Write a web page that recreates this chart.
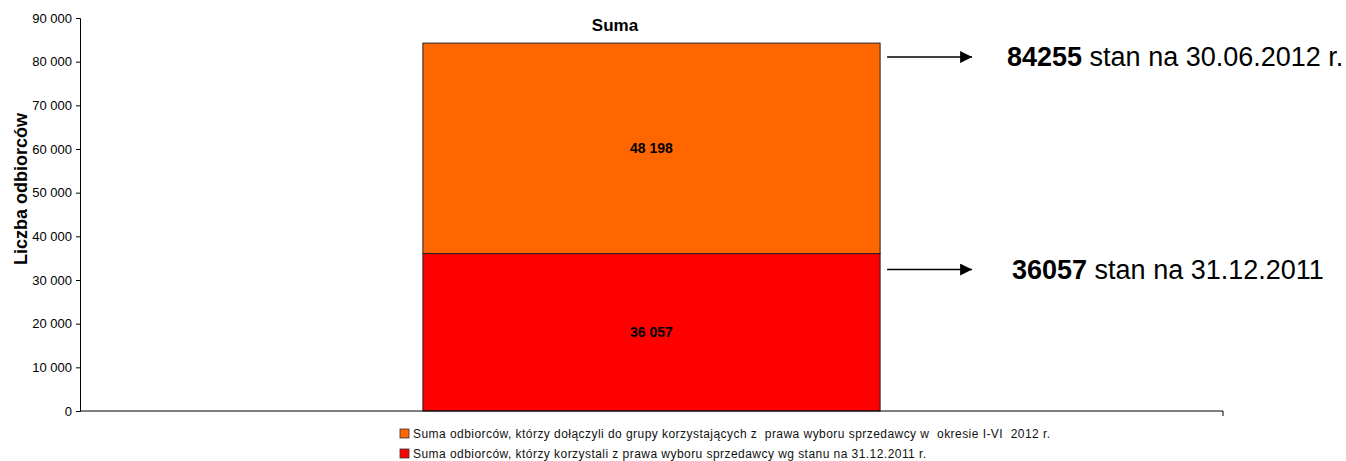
<!DOCTYPE html>
<html>
<head>
<meta charset="utf-8">
<script src="https://cdn.jsdelivr.net/npm/d3@7"></script>
<style>
body { margin: 0; background: #fff; }
text { font-family: "Liberation Sans", Arial, sans-serif; }
</style>
</head>
<body>
<div id="chart"></div>
<script>
const categories = ["Suma"];
const seriesNames = [
	"Suma odbiorców, którzy korzystali z prawa wyboru sprzedawcy wg stanu na 31.12.2011 r.",
	"Suma odbiorców, którzy dołączyli do grupy korzystających z  prawa wyboru sprzedawcy w  okresie I-VI  2012 r.",
];
const stan2011 = [36057];
const nowi2012 = [48198];
const yTicks = [0, 10000, 20000, 30000, 40000, 50000, 60000, 70000, 80000, 90000];
const colors = ["#FF0000", "#FF6600"];
const notes = [
	{ value: 84255, bold: "84255", rest: " stan na 30.06.2012 r." },
	{ value: 36057, bold: "36057", rest: " stan na 31.12.2011" },
];

const width = 1346;
const height = 461;
const margin = { top: 18, right: 123, bottom: 50, left: 80 };

const svg = d3
	.select("#chart")
	.append("svg")
	.attr("width", width)
	.attr("height", height);

const x = d3
	.scaleBand()
	.domain(categories)
	.range([margin.left, width - margin.right])
	.paddingInner(0)
	.paddingOuter(0);

const y = d3
	.scaleLinear()
	.domain([0, 90000])
	.range([height - margin.bottom, margin.top]);

const fmt = (d) => d3.format(",")(d).replace(/,/g, " ");

// stacked data
const rows = categories.map((c, i) => ({ cat: c, s0: stan2011[i], s1: nowi2012[i] }));
const stack = d3.stack().keys(["s0", "s1"])(rows);

const barW = x.bandwidth() * 0.4;
const barX = (d) => x(d.data.cat) + (x.bandwidth() - barW) / 2;

svg
	.append("g")
	.selectAll("g")
	.data(stack)
	.enter()
	.append("g")
	.attr("fill", (d, i) => colors[i])
	.selectAll("rect")
	.data((d) => d)
	.enter()
	.append("rect")
	.attr("x", barX)
	.attr("width", barW)
	.attr("y", (d) => y(d[1]))
	.attr("height", (d) => y(d[0]) - y(d[1]))
	.attr("stroke", "#222")
	.attr("stroke-width", 1);

// value labels
stack.forEach((layer) => {
	layer.forEach((d) => {
		svg
			.append("text")
			.attr("x", x(d.data.cat) + x.bandwidth() / 2)
			.attr("y", (y(d[0]) + y(d[1])) / 2 + 5)
			.attr("text-anchor", "middle")
			.attr("font-size", "14px")
			.attr("font-weight", "bold")
			.text(fmt(d[1] - d[0]));
	});
});

// y axis
const yAxis = d3
	.axisLeft(y)
	.tickValues(yTicks)
	.tickSize(4)
	.tickPadding(4)
	.tickFormat(fmt);
const gy = svg
	.append("g")
	.attr("transform", `translate(${margin.left},0)`)
	.call(yAxis);
gy.select(".domain").attr("stroke", "#000");
gy.selectAll("text").attr("font-size", "13px").attr("fill", "#000").attr("font-family", "Liberation Sans, Arial, sans-serif");

// x axis
const x0 = height - margin.bottom;
svg
	.append("line")
	.attr("x1", margin.left)
	.attr("x2", width - margin.right)
	.attr("y1", x0)
	.attr("y2", x0)
	.attr("stroke", "#000");
svg
	.append("line")
	.attr("x1", width - margin.right)
	.attr("x2", width - margin.right)
	.attr("y1", x0)
	.attr("y2", x0 + 5)
	.attr("stroke", "#000");

// title
svg
	.append("text")
	.attr("x", 615)
	.attr("y", 31)
	.attr("text-anchor", "middle")
	.attr("font-size", "17px")
	.attr("font-weight", "bold")
	.text(categories[0]);

// y axis label
svg
	.append("text")
	.attr("transform", `translate(27, 189) rotate(-90)`)
	.attr("text-anchor", "middle")
	.attr("font-size", "18px")
	.attr("font-weight", "bold")
	.text("Liczba odbiorców");

// arrows with annotations
svg
	.append("defs")
	.append("marker")
	.attr("id", "head")
	.attr("viewBox", "0 0 10 10")
	.attr("refX", 10)
	.attr("refY", 5)
	.attr("markerWidth", 18)
	.attr("markerHeight", 12)
	.attr("markerUnits", "userSpaceOnUse")
	.attr("orient", "auto")
	.append("path")
	.attr("d", "M0,0L10,5L0,10Z")
	.attr("fill", "#000");

const barRight = barX(stack[0][0]) + barW;
const noteOffsets = [14, 16];
const noteX = [1007, 1012];
notes.forEach((n, i) => {
	const ay = y(n.value) + noteOffsets[i];
	svg
		.append("line")
		.attr("x1", barRight + 7)
		.attr("x2", barRight + 92)
		.attr("y1", ay)
		.attr("y2", ay)
		.attr("stroke", "#000")
		.attr("stroke-width", 1.5)
		.attr("marker-end", "url(#head)");
	const t = svg
		.append("text")
		.attr("x", noteX[i])
		.attr("y", ay + 9)
		.attr("font-size", "27px");
	t.append("tspan").attr("font-weight", "bold").text(n.bold);
	t.append("tspan").text(n.rest);
});

// legend (reverse order like the reference)
const legend = svg
	.append("g")
	.selectAll("g")
	.data([1, 0])
	.enter()
	.append("g")
	.attr("transform", (d, i) => `translate(400, ${429 + i * 20})`);
legend
	.append("rect")
	.attr("width", 9)
	.attr("height", 9)
	.attr("fill", (d) => colors[d])
	.attr("stroke", "#333")
	.attr("stroke-width", 0.8);
legend
	.append("text")
	.attr("x", 13)
	.attr("y", 9)
	.attr("font-size", "12px")
	.attr("letter-spacing", "0.45px")
	.style("white-space", "pre")
	.attr("fill", "#111")
	.text((d) => seriesNames[d]);
</script>
</body>
</html>
